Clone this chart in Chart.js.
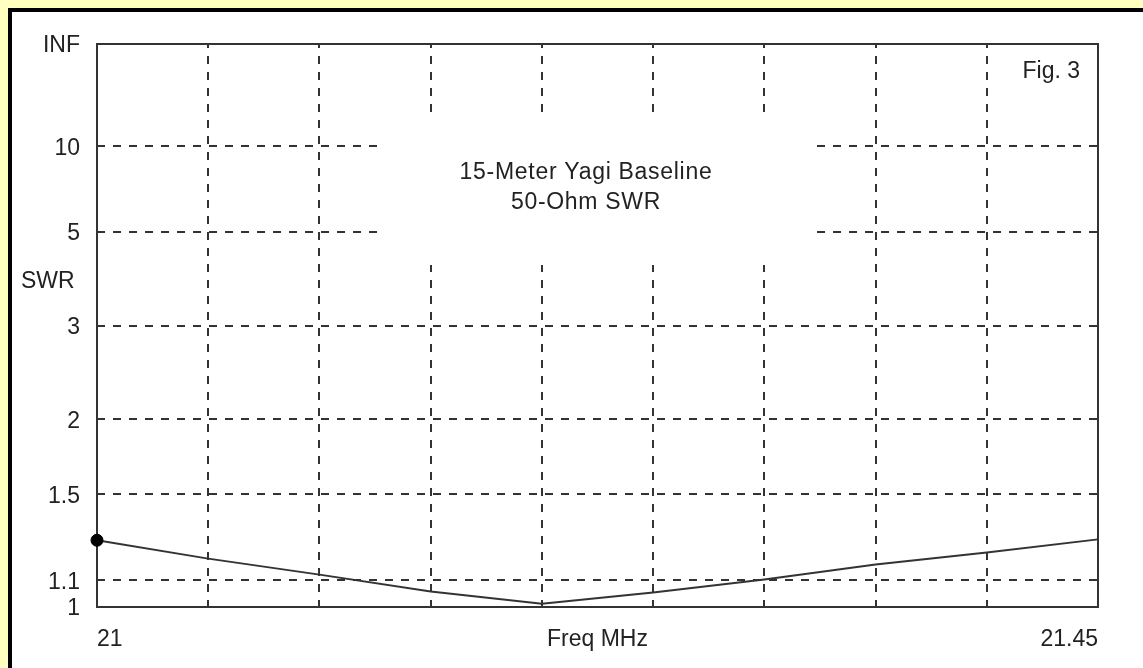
<!DOCTYPE html>
<html>
<head>
<meta charset="utf-8">
<title>15-Meter Yagi Baseline - 50-Ohm SWR</title>
<script src="https://cdn.jsdelivr.net/npm/chart.js@4/dist/chart.umd.min.js"></script>
<style>
  html, body { margin: 0; padding: 0; background: #ffffc0; }
  canvas { display: block; }
</style>
</head>
<body>
<canvas id="swrChart" width="1143" height="668"></canvas>
<script>
// Frequency sweep (MHz) and the SWR measured at each step
const freqMHz = [21.00, 21.05, 21.10, 21.15, 21.20, 21.25, 21.30, 21.35, 21.40, 21.45];
const swr     = [1.269, 1.188, 1.122, 1.057, 1.012, 1.053, 1.103, 1.163, 1.214, 1.273];

// Vertical grid positions and their labels (only the band edges are labelled)
const freqGrid       = [21.00, 21.05, 21.10, 21.15, 21.20, 21.25, 21.30, 21.35, 21.40, 21.45];
const freqGridLabels = ['21', '', '', '', '', '', '', '', '', '21.45'];

// SWR scale ticks (the axis is linear in reflection coefficient)
const swrTicks      = [1, 1.1, 1.5, 2, 3, 5, 10, Infinity];
const swrTickLabels = ['1', '1.1', '1.5', '2', '3', '5', '10', 'INF'];

const titleLines = ['15-Meter Yagi Baseline', '50-Ohm SWR'];
const figLabel   = 'Fig. 3';
const yTitle     = 'SWR';
const xTitle     = 'Freq MHz';

// SWR -> |reflection coefficient|
function rho(s) {
  return s === Infinity ? 1 : (s - 1) / (s + 1);
}

const FAMILY = '"Liberation Sans", Arial, sans-serif';
const FONT = '23px ' + FAMILY;
const INK = '#222';
const GRID = '#333';

// Page background: pale yellow with a black frame along the top/left edge
const backdrop = {
  id: 'backdrop',
  beforeDraw(chart) {
    const { ctx, width, height } = chart;
    ctx.save();
    ctx.fillStyle = '#ffffc0';
    ctx.fillRect(0, 0, width, height);
    ctx.fillStyle = '#000';
    ctx.fillRect(8, 8, width - 8, height - 8);
    ctx.fillStyle = '#fff';
    ctx.fillRect(12, 12, width - 12, height - 12);
    ctx.restore();
  }
};

// Title block, plot frame and free-standing labels
const annotations = {
  id: 'annotations',
  beforeDatasetsDraw(chart) {
    const { ctx, chartArea: a } = chart;
    ctx.save();
    // clear the grid behind the title block
    ctx.fillStyle = '#fff';
    ctx.fillRect(a.left + 280, a.top + 68, 440, 153);

    // plot frame
    ctx.strokeStyle = GRID;
    ctx.lineWidth = 2;
    ctx.strokeRect(a.left, a.top, a.right - a.left, a.bottom - a.top);

    ctx.fillStyle = INK;
    ctx.font = FONT;
    ctx.textBaseline = 'middle';

    ctx.textAlign = 'center';
    ctx.letterSpacing = '0.7px';
    ctx.fillText(titleLines[0], a.left + 489, a.top + 129);
    ctx.fillText(titleLines[1], a.left + 489, a.top + 159);
    ctx.letterSpacing = '0px';

    ctx.textAlign = 'right';
    ctx.fillText(figLabel, a.right - 18, a.top + 28);

    ctx.textAlign = 'left';
    ctx.fillText(yTitle, 21, a.top + 238);

    ctx.textAlign = 'center';
    ctx.fillText(xTitle, (a.left + a.right) / 2, a.bottom + 33);
    ctx.restore();
  }
};

new Chart(document.getElementById('swrChart'), {
  type: 'line',
  data: {
    datasets: [{
      data: freqMHz.map((f, i) => ({ x: f, y: rho(swr[i]) })),
      borderColor: '#333',
      borderWidth: 2,
      backgroundColor: '#000',
      pointRadius: ctx => (ctx.dataIndex === 0 ? 6 : 0),
      pointBorderWidth: 1,
      pointBorderColor: '#000',
      pointBackgroundColor: '#000',
      tension: 0,
      fill: false,
      clip: false
    }]
  },
  options: {
    responsive: false,
    devicePixelRatio: 1,
    animation: false,
    events: [],
    layout: { padding: { left: 0, top: 44, right: 45, bottom: 0 } },
    plugins: {
      legend: { display: false },
      title: { display: false },
      tooltip: { enabled: false }
    },
    scales: {
      x: {
        type: 'linear',
        min: freqGrid[0],
        max: freqGrid[freqGrid.length - 1],
        afterBuildTicks: s => { s.ticks = freqGrid.map(v => ({ value: v })); },
        afterFit: s => { s.height = 61; },
        border: { display: false, dash: [8, 8], dashOffset: 4 },
        grid: {
          color: GRID,
          lineWidth: 2,
          drawTicks: false
        },
        ticks: {
          autoSkip: false,
          maxRotation: 0,
          align: 'inner',
          padding: 19,
          color: INK,
          font: { family: FAMILY, size: 23 },
          callback: (v, i) => freqGridLabels[i]
        }
      },
      y: {
        type: 'linear',
        min: 0,
        max: 1,
        afterBuildTicks: s => { s.ticks = swrTicks.map(v => ({ value: rho(v) })); },
        afterFit: s => { s.width = 97; },
        border: { display: false, dash: [8, 8], dashOffset: 0 },
        grid: {
          color: GRID,
          lineWidth: 2,
          drawTicks: false
        },
        ticks: {
          autoSkip: false,
          padding: 17,
          labelOffset: 2,
          color: INK,
          font: { family: FAMILY, size: 23 },
          callback: (v, i) => swrTickLabels[i]
        }
      }
    }
  },
  plugins: [backdrop, annotations]
});
</script>
</body>
</html>
